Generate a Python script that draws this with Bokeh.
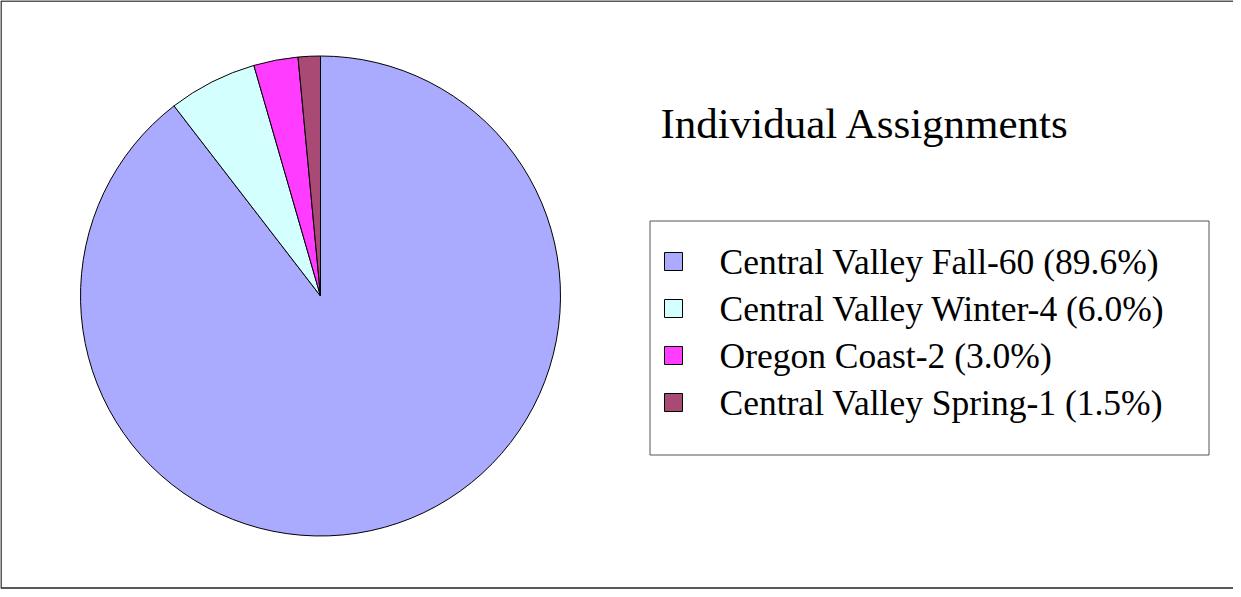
import numpy as np
from bokeh.plotting import figure
from bokeh.models import Range1d, ColumnDataSource
from bokeh.core.properties import value
from bokeh.embed import file_html
from bokeh.resources import INLINE

# ---- data ----
names = ["Central Valley Fall", "Central Valley Winter", "Oregon Coast", "Central Valley Spring"]
counts = [60, 4, 2, 1]
colors = ["#AAAAFF", "#D4FFFF", "#FF3CFF", "#A94A74"]
title = "Individual Assignments"

total = sum(counts)
frac = np.array(counts) / total
cum_after = np.cumsum(frac)
cum_before = cum_after - frac
labels = [f"{n}-{c} ({100*f:.1f}%)" for n, c, f in zip(names, counts, frac)]

W, H = 1233, 589
p = figure(width=W, height=H, output_backend="svg", toolbar_location=None,
           x_range=Range1d(8, 8 + W), y_range=Range1d(8 + H, 8),
           min_border=0, outline_line_color=None)
p.axis.visible = False
p.grid.visible = False
p.background_fill_color = "white"
p.border_fill_color = "white"

# outer border (right edge lies outside the window in the reference)
p.quad(left=[8.5], right=[1250], top=[8.5], bottom=[595.5], fill_color=None,
       line_color="#222222", line_width=1.5)

# pie (clockwise from 12 o'clock)
src = ColumnDataSource(dict(
    start=np.pi / 2 - 2 * np.pi * cum_after,
    end=np.pi / 2 - 2 * np.pi * cum_before,
    color=colors))
p.wedge(x=328, y=303.5, radius=240, start_angle="start", end_angle="end",
        direction="anticlock", fill_color="color", line_color="black",
        line_width=1, source=src)

# title
p.text(x=[668], y=[131], text=[title], text_font=value("Liberation Serif"),
       text_font_size="43px", text_baseline="middle", text_align="left",
       text_color="black")

# legend box
p.quad(left=[657.5], right=[1216.5], top=[228.5], bottom=[462.5],
       fill_color="white", line_color="#555555", line_width=1)

ys = [269 + 47 * i for i in range(len(names))]
p.rect(x=[681] * len(names), y=ys, width=18, height=18, fill_color=colors,
       line_color="black", line_width=1)
p.text(x=[727] * len(names), y=ys, text=labels, text_font=value("Liberation Serif"),
       text_font_size="35.5px", text_baseline="middle", text_align="left",
       text_color="black")

open("out.html", "w").write(file_html(p, INLINE))
